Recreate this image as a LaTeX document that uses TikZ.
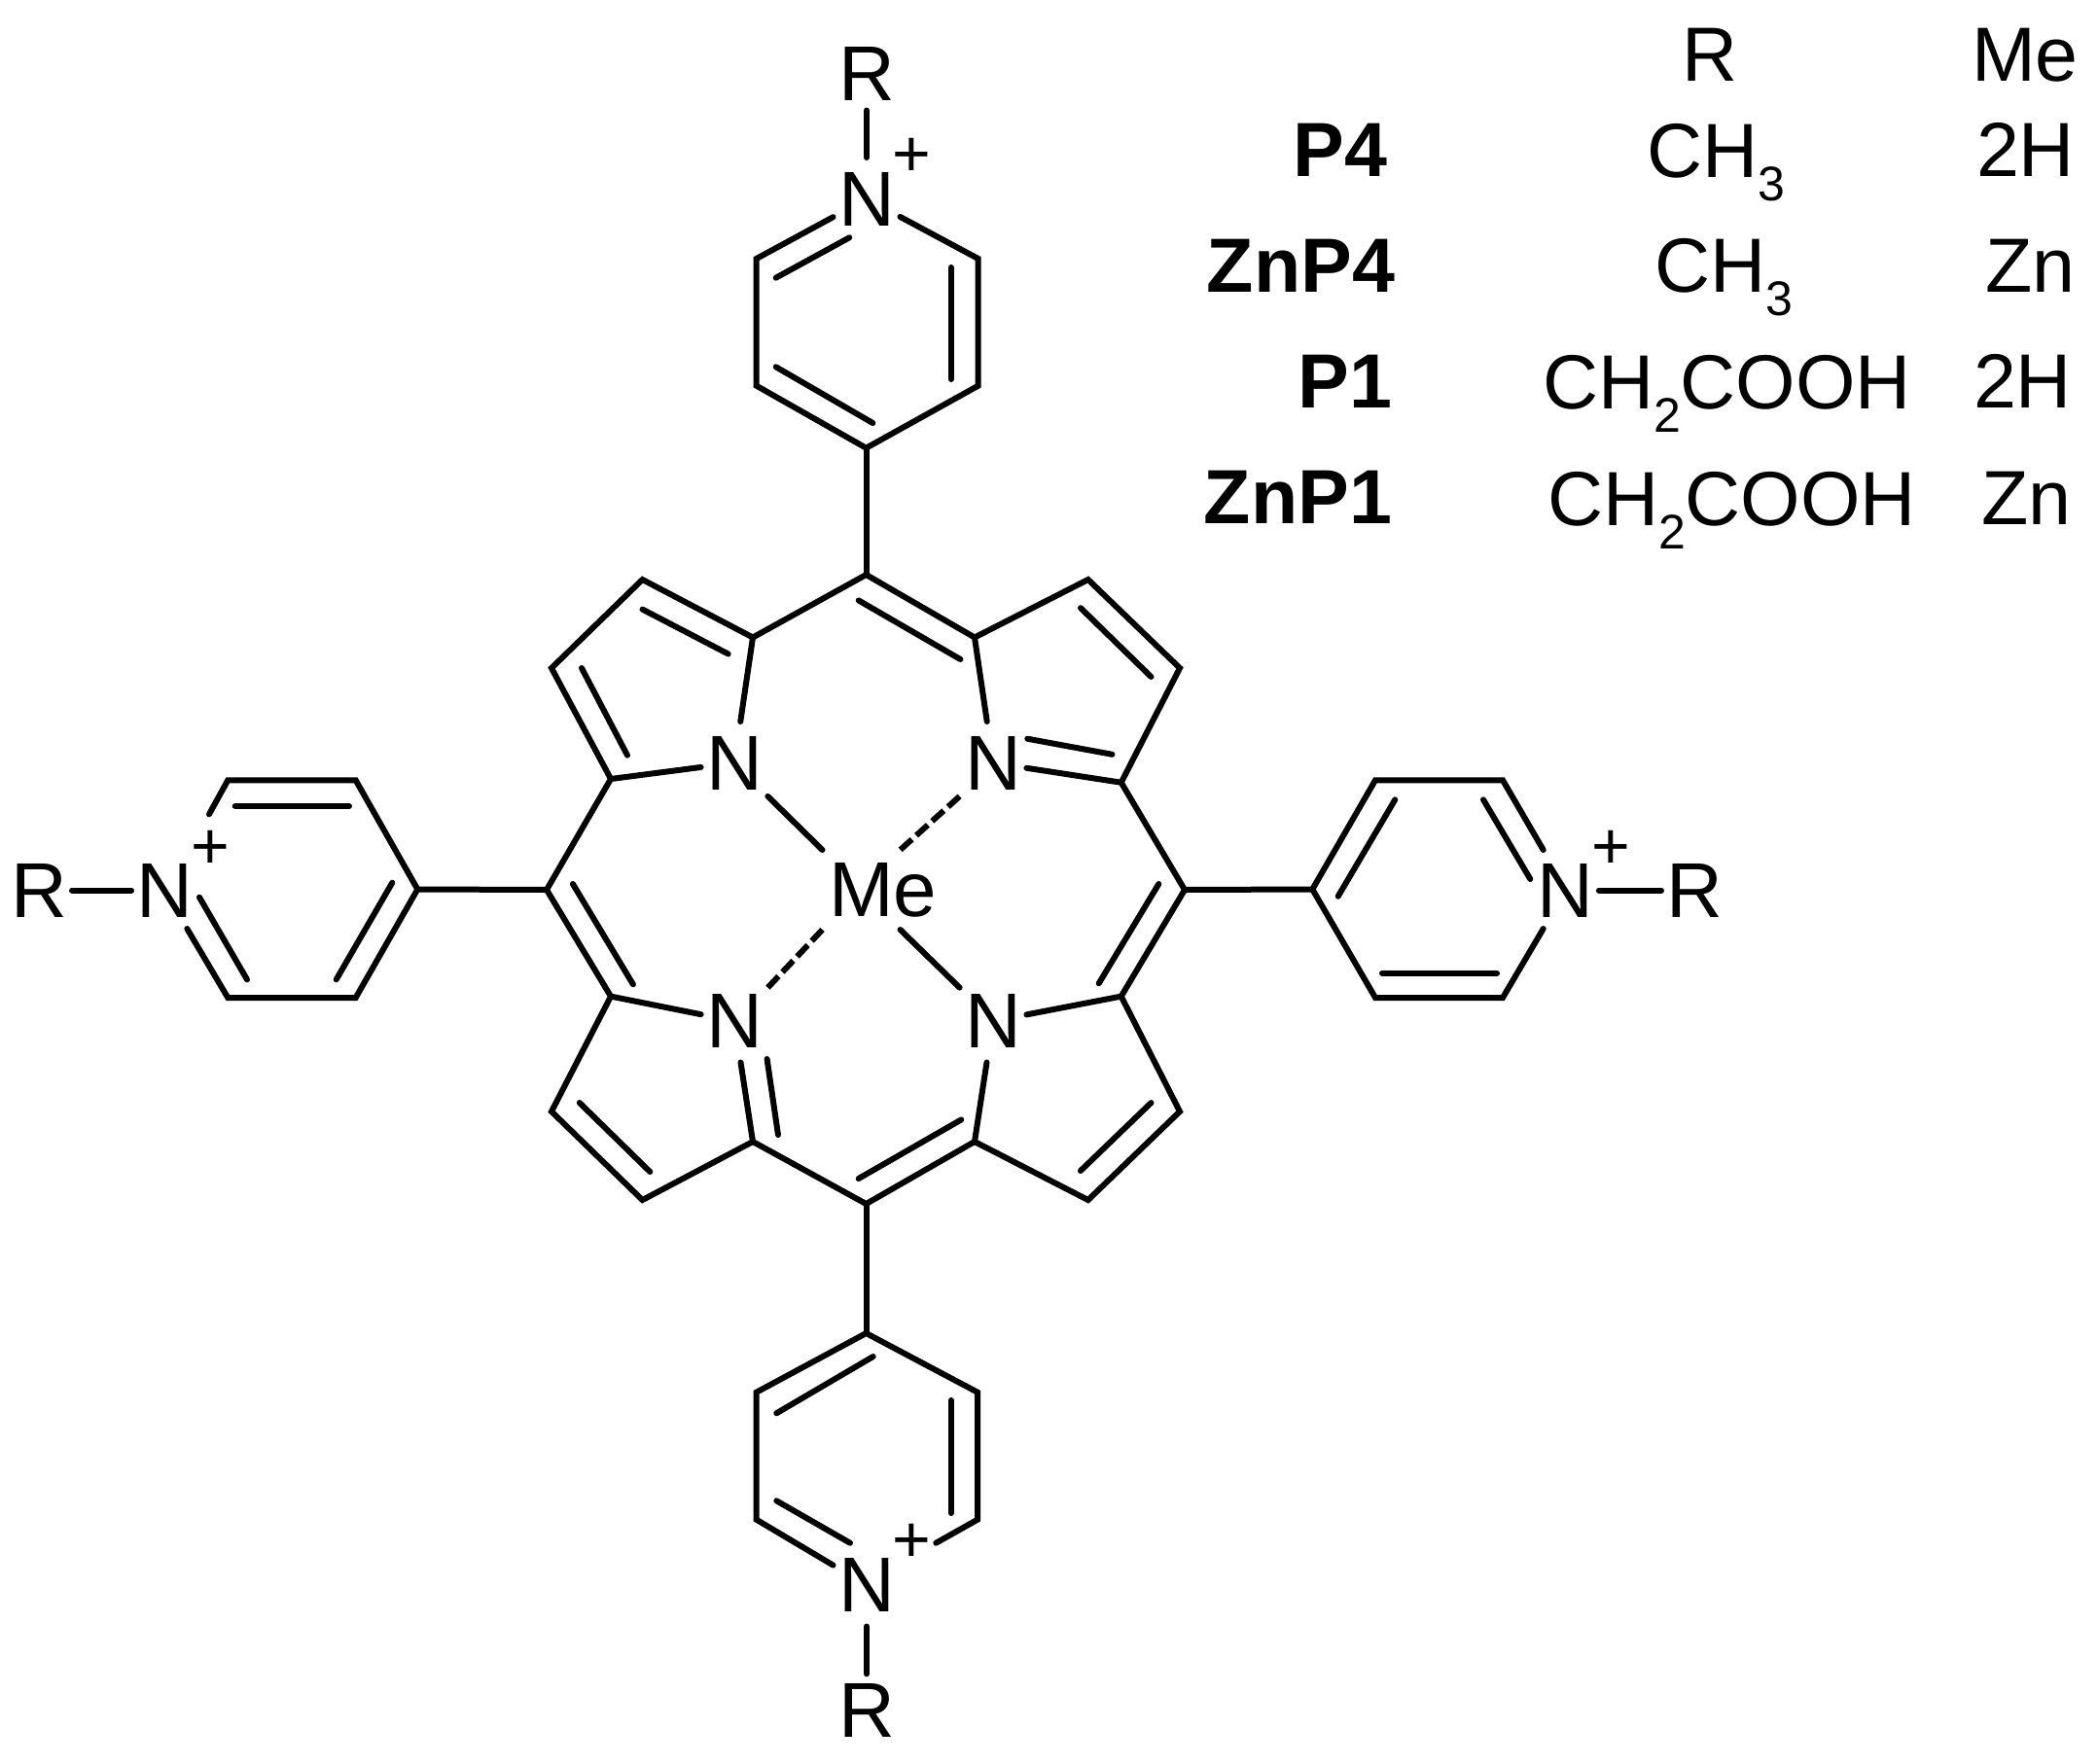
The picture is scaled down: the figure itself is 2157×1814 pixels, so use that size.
\documentclass[tikz,border=0pt]{standalone}
\usepackage{fontspec}
\setmainfont{Liberation Sans}
\newcommand{\atomfont}{\fontsize{40}{41}\selectfont}
\newcommand{\tablefont}{\fontsize{39.5}{41}\selectfont}
\newcommand{\subd}[1]{\raisebox{-12pt}{\fontsize{25}{26}\selectfont #1}}
\tikzset{
  bond/.style={draw=black,line width=3pt,line cap=round,line join=miter,miter limit=10},
  dashbond/.style={draw=black,line width=3pt,line cap=butt,dash pattern=on 8pt off 3pt},
  atomN/.style={inner sep=0pt,outer sep=0pt,minimum width=34.4pt,minimum height=42.5pt,font=\atomfont},
  atomR/.style={inner sep=0pt,outer sep=0pt,minimum width=34pt,minimum height=37.5pt,font=\atomfont},
  atomMe/.style={inner sep=0pt,outer sep=0pt,minimum width=40pt,minimum height=41pt,font=\atomfont},
  chargemark/.style={inner sep=0pt,outer sep=0pt,font=\fontsize{34}{34}\selectfont},
  tableleft/.style={anchor=base west,inner sep=0pt,outer sep=0pt,font=\tablefont},
  tablelabel/.style={anchor=base east,inner sep=0pt,outer sep=0pt,font=\tablefont\bfseries}
}
\newcommand{\lin}[3]{\coordinate (#1a) at (#2); \coordinate (#1b) at (#3); \draw[bond] (#1a) -- (#1b);}
\begin{document}
\begin{tikzpicture}[x=0.5pt,y=-0.5pt]
\useasboundingbox (0,0) rectangle (2157,1814);
% atoms of the core
\node[atomN] (nTL) at (755,784.5) {N};
\node[atomN] (nTR) at (1021,784.5) {N};
\node[atomN] (nBL) at (755,1050) {N};
\node[atomN] (nBR) at (1021,1050) {N};
\node[atomMe] (me) at (885.5,915) {M\rlap{e}};
% core skeleton
\coordinate (mT) at (890.5,591);
\coordinate (mB) at (890.5,1238);
\coordinate (mL) at (562,915);
\coordinate (mR) at (1218,915);
\coordinate (aTL) at (774,655.5);
\coordinate (aTR) at (1002,655.5);
\coordinate (aLT) at (628,801);
\coordinate (aLB) at (628,1024.6);
\coordinate (aRT) at (1152.7,804.7);
\coordinate (aRB) at (1152.7,1024.6);
\coordinate (aBL) at (774,1174);
\coordinate (aBR) at (1002,1174);
\coordinate (b1) at (660.5,596);
\coordinate (b2) at (567,687);
\coordinate (b3) at (1118.7,596);
\coordinate (b4) at (1213,687);
\coordinate (b5) at (567,1143);
\coordinate (b6) at (660.5,1234);
\coordinate (b7) at (1213,1143);
\coordinate (b8) at (1118.7,1234);
\draw[bond] (nTL) -- (aTL) -- (b1) -- (b2) -- (aLT) -- (nTL);
\draw[bond] (aLT) -- (mL) -- (aLB) -- (nBL);
\draw[bond] (aLB) -- (b5) -- (b6) -- (aBL) -- (nBL);
\draw[bond] (aTL) -- (mT) -- (aTR) -- (nTR);
\draw[bond] (aTR) -- (b3) -- (b4) -- (aRT) -- (nTR);
\draw[bond] (aRT) -- (mR) -- (aRB) -- (nBR);
\draw[bond] (aRB) -- (b7) -- (b8) -- (aBR) -- (nBR);
\draw[bond] (aBL) -- (mB) -- (aBR);
% inner lines of the double bonds in the core
\lin{c1}{660.5,626.6}{748.7,672.5}
\lin{c2}{598,687}{645,776.7}
\lin{c3}{882.7,617.4}{987.4,678}
\lin{c4}{1111,625.2}{1183.5,696}
\lin{c5}{1056.3,759.7}{1143.5,775.8}
\lin{c6}{1191.3,909}{1129.7,1011.3}
\lin{c7}{588.9,909}{650.9,1012.3}
\lin{c8}{788.6,1089}{800,1167}
\lin{c9}{595.8,1134}{668.3,1205}
\lin{c10}{882.7,1212}{988.3,1151.4}
\lin{c11}{1110.9,1204}{1183.5,1134}
% metal bonds
\draw[bond] (nTL.-45) -- (me.north west);
\draw[dashbond] (nTR.-135) -- (me.north east);
\draw[dashbond] (nBL.45) -- (me.south west);
\draw[bond] (nBR.135) -- (me.south east);
% top pyridinium
\node[atomN] (nPT) at (891,204.5) {N};
\node[atomR] (rT) at (891,76) {R};
\node[chargemark] (pT) at (937.3,162) {+};
\coordinate (t1) at (777.7,266);
\coordinate (t2) at (777.7,396.7);
\coordinate (t3) at (890.5,460.7);
\coordinate (t4) at (1005.7,396.7);
\coordinate (t5) at (1005.7,266);
\draw[bond] (nPT) -- (t1) -- (t2) -- (t3) -- (t4) -- (t5) -- (nPT);
\draw[bond] (t3) -- (mT);
\draw[bond] (rT) -- (nPT);
\lin{t6}{873.3,244.3}{797.7,285.7}
\lin{t7}{797.7,377.3}{897.3,435}
\lin{t8}{977.7,275}{977.7,390}
% bottom pyridinium
\node[atomN] (nPB) at (891,1630) {N};
\node[atomR] (rB) at (891,1758.8) {R};
\node[chargemark] (pB) at (937.3,1586.7) {+};
\coordinate (u1) at (890.5,1371);
\coordinate (u2) at (777.7,1431.7);
\coordinate (u3) at (777.7,1562.7);
\coordinate (u4) at (1005,1562.7);
\coordinate (u5) at (1005,1431.7);
\coordinate (u6) at (962.3,1586.7);
\draw[bond] (nPB) -- (u3) -- (u2) -- (u1) -- (u5) -- (u4) -- (u6);
\draw[bond] (mB) -- (u1);
\draw[bond] (nPB) -- (rB);
\lin{u7}{874,1586.7}{798.3,1543.3}
\lin{u8}{977.7,1440}{977.7,1556}
\lin{u9}{798.3,1453.3}{897.7,1395}
% left pyridinium
\node[atomN] (nPL) at (169.5,915.5) {N};
\node[atomR] (rL) at (40,915.5) {R};
\node[chargemark] (pL) at (216,873.7) {+};
\coordinate (l1) at (215,837.3);
\coordinate (l2) at (234.3,802.3);
\coordinate (l3) at (365.7,802.3);
\coordinate (l4) at (429.3,914.5);
\coordinate (l5) at (365.7,1026);
\coordinate (l6) at (234.3,1026);
\coordinate (l7) at (192.3,955);
\draw[bond] (l1) -- (l2) -- (l3) -- (l4) -- (l5) -- (l6) -- (l7);
\draw[bond] (l4) -- (mL);
\draw[bond] (rL) -- (nPL);
\lin{l8}{205,922.7}{254,1007.3}
\lin{l9}{241.7,829}{359,829}
\lin{l10}{403.3,907.7}{345.7,1007.3}
% right pyridinium
\node[atomN] (nPR) at (1609.5,915.5) {N};
\node[atomR] (rR) at (1742,915.5) {R};
\node[chargemark] (pR) at (1656.7,873.7) {+};
\coordinate (r1) at (1349.3,914.5);
\coordinate (r2) at (1414,802.3);
\coordinate (r3) at (1545,802.3);
\coordinate (r4) at (1586.7,874);
\coordinate (r5) at (1586.7,955);
\coordinate (r6) at (1545,1026);
\coordinate (r7) at (1414,1026);
\draw[bond] (r4) -- (r3) -- (r2) -- (r1) -- (r7) -- (r6) -- (r5);
\draw[bond] (mR) -- (r1);
\draw[bond] (nPR) -- (rR);
\lin{r8}{1434.3,822.3}{1375.7,921.7}
\lin{r9}{1525,822.3}{1573.3,904}
\lin{r10}{1421,1000.7}{1539,1000.7}
% table
\node[tableleft] (hR) at (1729,84) {R};
\node[tableleft] (hMe) at (2027,84) {Me};
\node[tablelabel] (lA) at (1426,181.5) {P4};
\node[tableleft] (rA) at (1693,183) {CH\subd{3}};
\node[tableleft] (mA) at (2032,181.5) {2H};
\node[tablelabel] (lB) at (1434,300) {ZnP4};
\node[tableleft] (rBb) at (1701,300) {CH\subd{3}};
\node[tableleft] (mBb) at (2041,300) {Zn};
\node[tablelabel] (lC) at (1431,419) {P1};
\node[tableleft] (rC) at (1586,420) {CH\subd{2}COOH};
\node[tableleft] (mC) at (2029,419) {2H};
\node[tablelabel] (lD) at (1431,538) {ZnP1};
\node[tableleft] (rD) at (1591,540) {CH\subd{2}COOH};
\node[tableleft] (mD) at (2037,539) {Zn};
\end{tikzpicture}
\end{document}
